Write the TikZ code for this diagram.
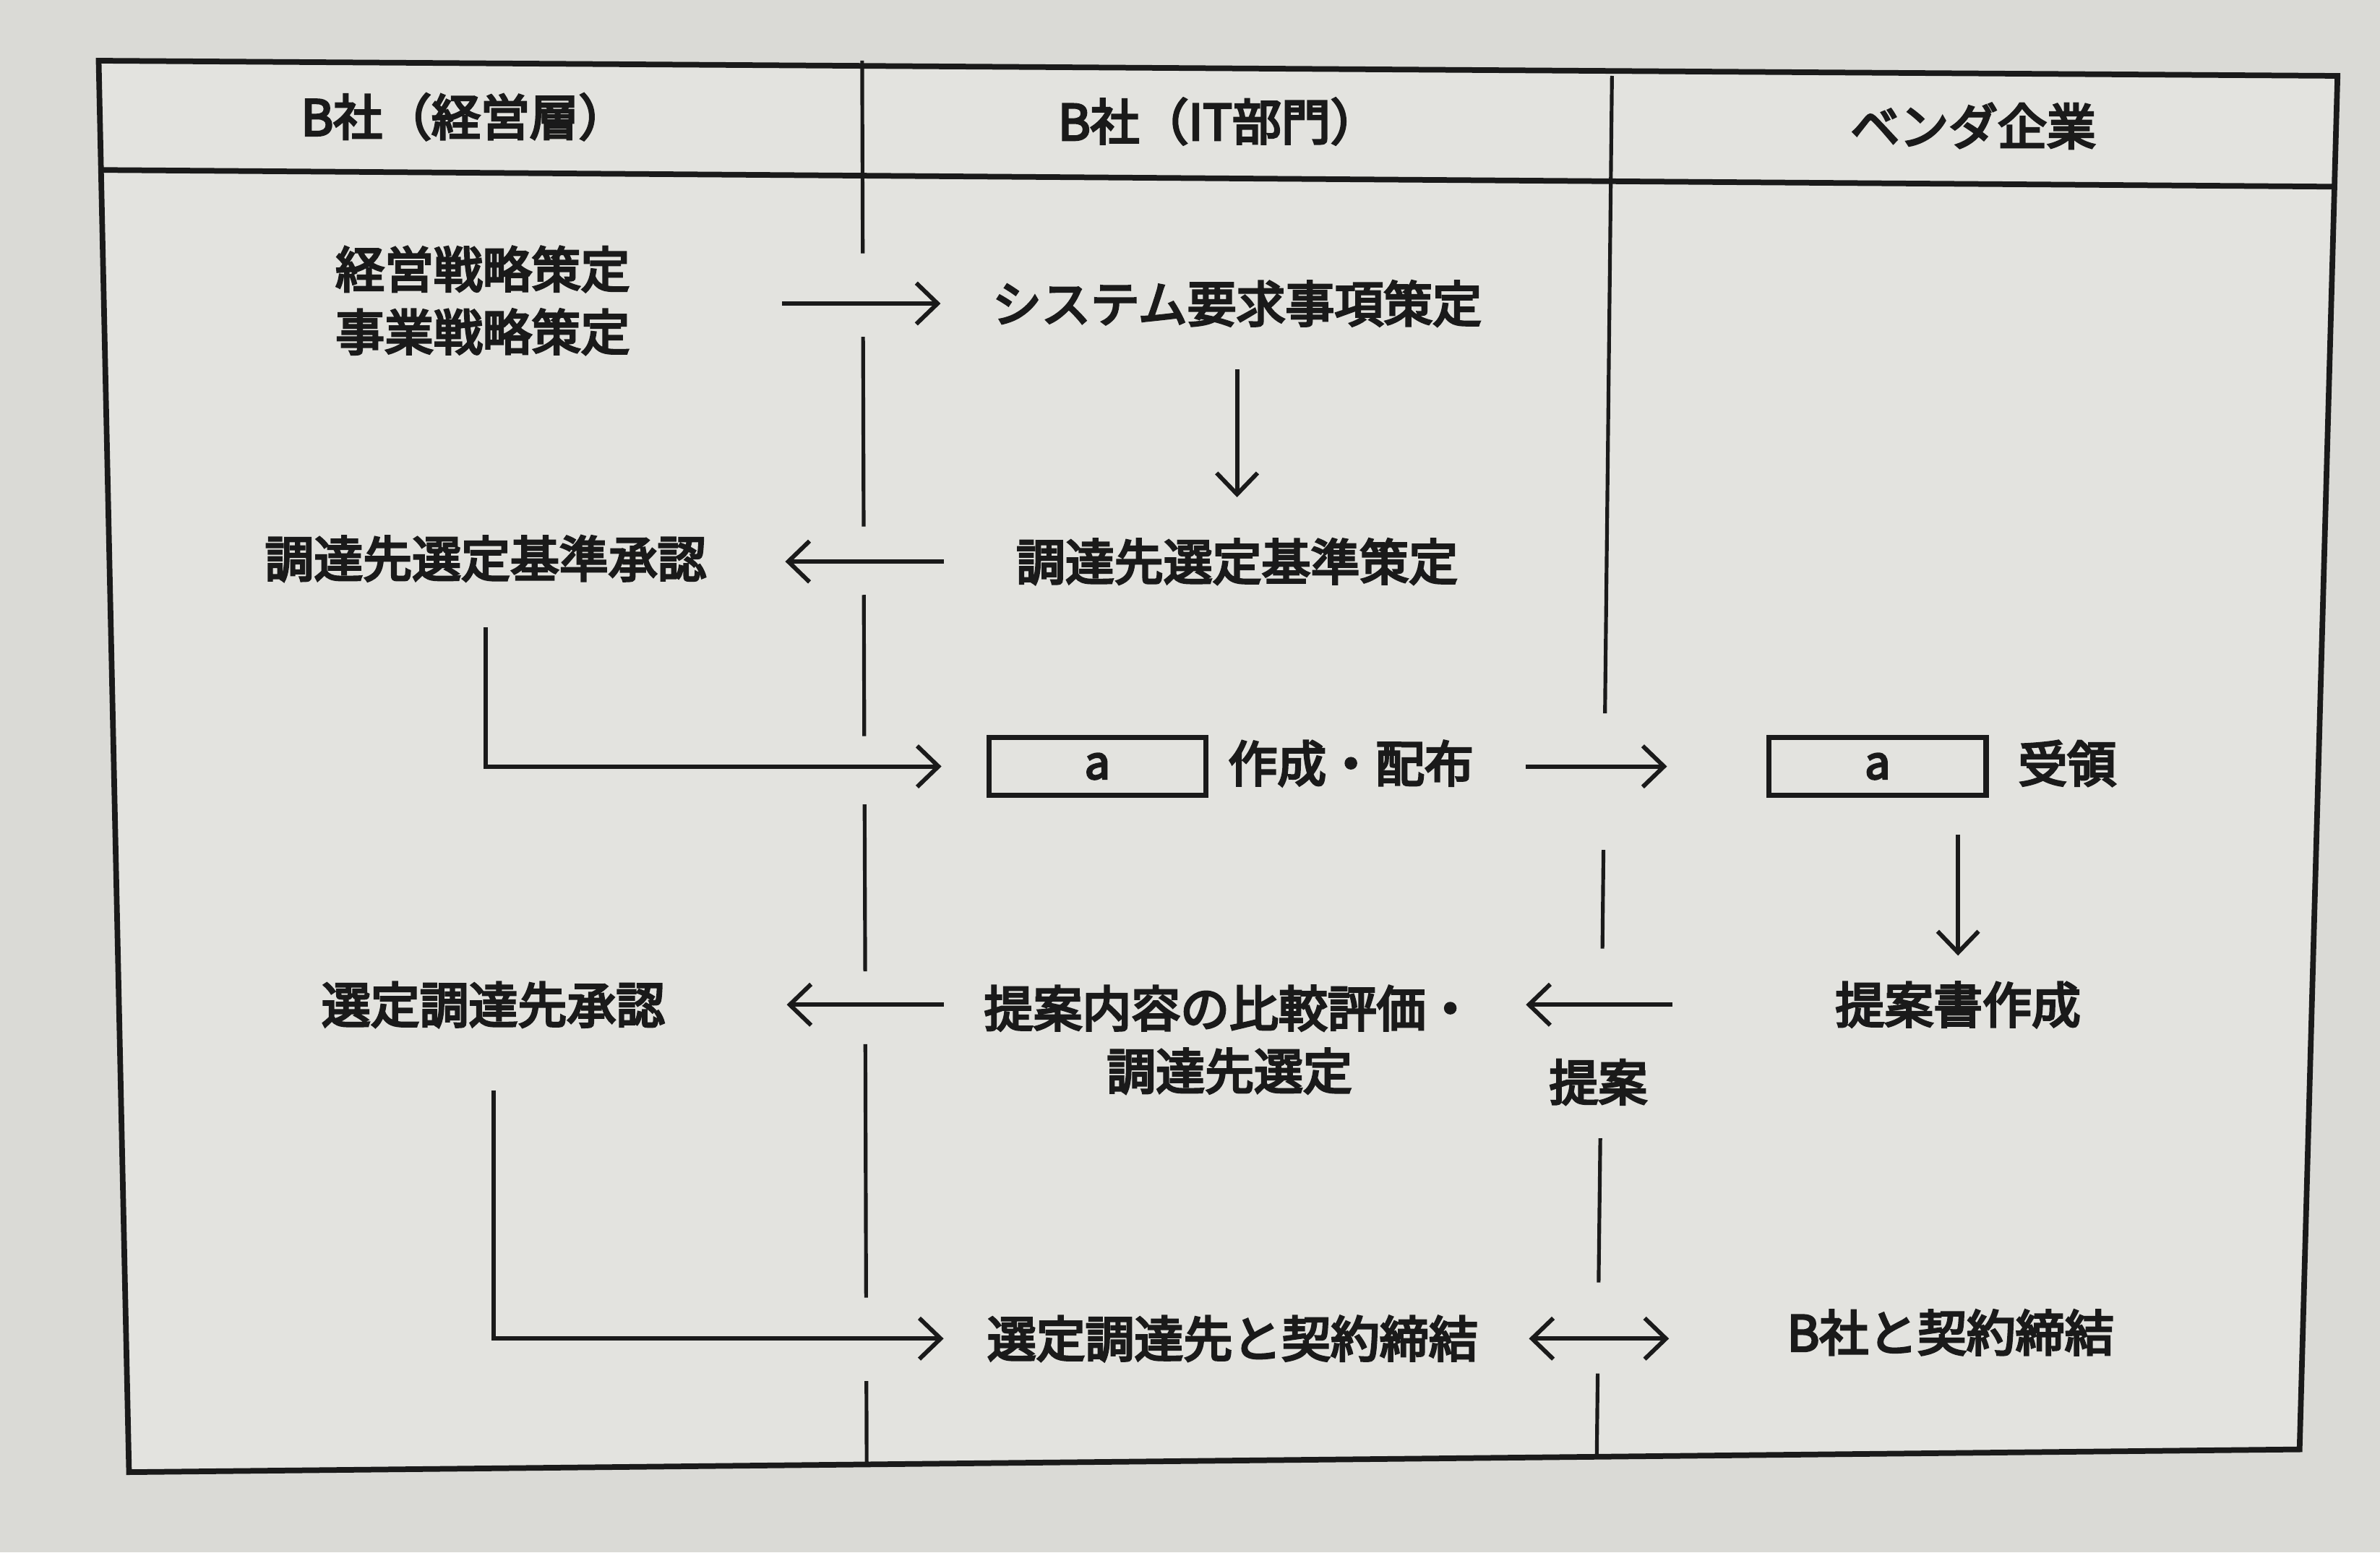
\documentclass[tikz,border=0pt]{standalone}
\usepackage{fontspec}
\newfontfamily\jpfont{Noto Sans CJK JP}[FakeBold=4.5]
\usetikzlibrary{arrows.meta}
\definecolor{bgout}{HTML}{DADAD6}
\definecolor{bgin}{HTML}{E3E3DF}
\definecolor{ink}{HTML}{1A1A1A}
\tikzset{
  lbl/.style={inner sep=0pt, minimum height=0.68cm, font=\jpfont\fontsize{18.4}{23.5}\selectfont, text=ink, align=center},
  hdr/.style={lbl},
  abox/.style={draw=ink, line width=2pt, inner sep=0pt, minimum width=2.86cm, minimum height=0.76cm, font=\jpfont\fontsize{17}{20}\selectfont, text=ink},
  frameline/.style={draw=ink, line width=2.1pt},
  divline/.style={draw=ink, line width=1.4pt},
  tip/.tip={Straight Barb[length=0.28cm, width=0.54cm, line width=1.6pt]},
  arr/.style={draw=ink, line width=1.6pt, -tip},
  darr/.style={draw=ink, line width=1.6pt, tip-tip}
}
\begin{document}
\begin{tikzpicture}[x=0.02cm, y=-0.02cm]
\useasboundingbox (0,0) rectangle (1568,1023);
\fill[bgout] (0,0) rectangle (1568,1023);
\fill[bgin] (65,40) -- (1540,50) -- (1515,955) -- (85,970) -- cycle;
% outer frame and header line
\draw[frameline, line join=miter] (65,40) -- (1540,50) -- (1515,955) -- (85,970) -- cycle;
\draw[frameline] (66.5,112) -- (1537.7,123);
% lane divider 1 (broken where arrows cross)
\draw[divline] (568,40) -- (568.4,167);
\draw[divline] (568.6,222) -- (569,347);
\draw[divline] (569.1,392) -- (569.4,485);
\draw[divline] (569.6,530) -- (570,640);
\draw[divline] (570.1,688) -- (570.6,855);
\draw[divline] (570.8,910) -- (571,966);
% lane divider 2
\draw[divline] (1062,50) -- (1057.4,470);
\draw[divline] (1056.4,560) -- (1055.7,625);
\draw[divline] (1054.3,750) -- (1053.2,845);
\draw[divline] (1052.6,905) -- (1052,958);
% headers
\node[hdr] (h1) at (306,77) {B社（経営層）};
\node[hdr] (h2) at (803,80) {B社（IT部門）};
\node[hdr] (h3) at (1300,83) {ベンダ企業};
% nodes
\node[lbl, minimum width=4cm] (strat) at (318,198) {経営戦略策定\\事業戦略策定};
\node[lbl, minimum width=6.6cm] (req) at (815,200) {システム要求事項策定};
\node[lbl, minimum width=6cm] (crit) at (815,370) {調達先選定基準策定};
\node[lbl, minimum width=6cm] (appr) at (320,368) {調達先選定基準承認};
\node[abox] (boxA) at (723,505) {a};
\node[lbl, minimum width=3.4cm] (dist) at (890,503) {作成・配布};
\node[abox] (boxB) at (1237,505) {a};
\node[lbl, minimum width=1.4cm] (recv) at (1362,503) {受領};
\node[lbl, minimum width=3.4cm] (prop) at (1290,662) {提案書作成};
\node[lbl] (proplbl) at (1053,713) {提案};
\node[lbl, minimum width=6.6cm] (eval) at (810,685) {提案内容の比較評価・\\調達先選定};
\node[lbl, minimum width=4.6cm] (sapr) at (325,662) {選定調達先承認};
\node[lbl, minimum width=6.6cm] (contract) at (812,882) {選定調達先と契約締結};
\node[lbl, minimum width=4.3cm] (vcontract) at (1285,878) {B社と契約締結};
% connectors
\draw[arr, shorten <=1.94cm, shorten >=0.6cm] (strat.east |- req.west) -- (req.west);
\draw[arr, shorten <=0.52cm, shorten >=0.5cm] (req.south) -- (crit.north);
\draw[arr, shorten <=0.86cm, shorten >=0.94cm] (crit.west) -- (crit.west -| appr.east);
\draw[arr, shorten <=0.56cm, shorten >=0.59cm] (appr.south) |- (boxA.west);
\draw[arr, shorten <=0.6cm, shorten >=1.31cm] (dist.east |- boxB.west) -- (boxB.west);
\draw[arr, shorten <=0.48cm, shorten >=0.3cm] (prop.north |- boxB.south) -- (prop.north);
\draw[arr, shorten <=2.06cm, shorten >=0.6cm] (prop.west) -- (prop.west -| eval.east);
\draw[arr, shorten <=0.46cm, shorten >=1.56cm] (eval.west |- sapr.east) -- (sapr.east);
\draw[arr, shorten <=0.78cm, shorten >=0.5cm] (sapr.south) |- (contract.west);
\draw[darr, shorten <=0.6cm, shorten >=1.55cm] (contract.east) -- (contract.east -| vcontract.west);
\end{tikzpicture}
\end{document}
